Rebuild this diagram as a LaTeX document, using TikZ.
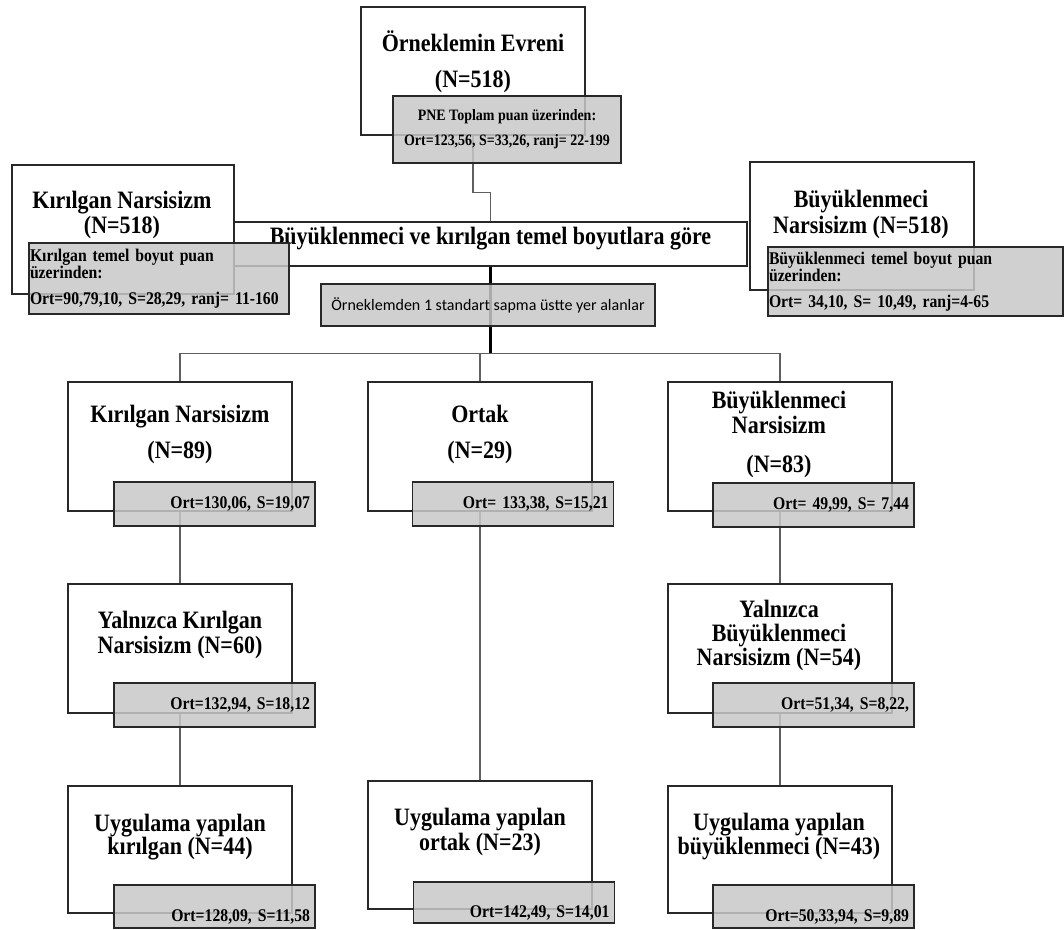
\documentclass[tikz,border=0pt]{standalone}
\usepackage{fontspec}
\setmainfont{Liberation Serif}
\newfontfamily\nserif[FakeStretch=0.88]{Liberation Serif}
\newfontfamily\carlito{Carlito}
\newcommand\titlefont{\nserif\bfseries\fontsize{18.75}{18}\selectfont}
\newcommand\grayfont{\nserif\bfseries\fontsize{13.4}{12.75}\selectfont}
\newcommand\pnefont{\nserif\bfseries\fontsize{11.9}{18.75}\selectfont}

\definecolor{boxline}{RGB}{40,40,40}
\definecolor{linegray}{RGB}{95,95,95}
\definecolor{boxgray}{RGB}{200,200,200}

\tikzset{
	wbox/.style={draw=boxline, line width=1pt, fill=white, inner sep=0pt, minimum width=168pt, minimum height=96.75pt},
	gbox/.style={draw=boxline, line width=1pt, fill=boxgray, fill opacity=0.85, text opacity=1, inner ysep=0pt, font=\grayfont},
	ortbox/.style={gbox, minimum width=150.75pt, minimum height=33pt, inner xsep=3.75pt, text width=143.25pt, align=right},
	lowtext/.style={text height=24pt, text depth=0.8pt},
	ttl/.style={font=\titlefont, align=center, inner sep=0pt, anchor=north, execute at begin node=\rule{0pt}{16.5pt}},
	link/.style={draw=linegray, line width=0.8pt},
	trunk/.style={draw=black, line width=1.6pt}}
\tikzset{every picture/.style={line width=0.75pt}}

\begin{document}
\begin{tikzpicture}[x=0.75pt,y=0.75pt,yscale=-1,xscale=1]
	\fill[white] (0,0) rectangle (1064,929);
	\useasboundingbox (0,0) rectangle (1064,929);

	%Shape: Rectangle [white boxes]
	\node[wbox, minimum height=96pt] (evren) at (473,71) {};
	\node[wbox, minimum width=166.5pt] (kirUst) at (123,229.5) {};
	\node[wbox, minimum height=96pt] (buyUst) at (862,226) {};
	\node[wbox, minimum width=384.75pt, minimum height=33pt, font=\titlefont, text height=6pt, text depth=6pt] (boyut) at (490.5,244) {Büyüklenmeci ve kırılgan temel boyutlara göre};
	\node[wbox] (kir2) at (180,446.5) {};
	\node[wbox] (ort2) at (480,446.5) {};
	\node[wbox] (buy2) at (780,446.5) {};
	\node[wbox] (kir3) at (180,648.5) {};
	\node[wbox] (buy3) at (780,648.5) {};
	\node[wbox, minimum height=95.25pt] (kir4) at (180,849.5) {};
	\node[wbox, minimum height=96pt] (ort4) at (480,845) {};
	\node[wbox, minimum height=95.25pt] (buy4) at (780,849.5) {};

	%Straight Lines
	\draw[link] (evren.south) -- ++(0,57) -| (boyut.north);
	\draw[trunk] (boyut.south) -- ++(0,87) coordinate (split);
	\draw[link] (kir2.north) |- (split) -| (buy2.north);
	\draw[link] (ort2.north) -- (ort2.north |- split);
	\draw[link] (kir2.south) -- (kir3.north);
	\draw[link] (kir3.south) -- (kir4.north);
	\draw[link] (buy2.south) -- (buy3.north);
	\draw[link] (buy3.south) -- (buy4.north);
	\draw[link] (ort2.south) -- (ort4.north);

	%Shape: Rectangle [gray boxes]
	\node[gbox, font=\pnefont, align=center, minimum width=171pt, minimum height=50.25pt] (evrenG) at (507,129.5) {PNE Toplam puan üzerinden:\\Ort=123,56, S=33,26, ranj= 22-199};
	\node[gbox, inner xsep=0.75pt, text width=193.5pt, align=left, minimum height=53.25pt] (kirUstG) at (159,278.5) {Kırılgan temel boyut puan\\üzerinden:\\[6.75pt]Ort=90,79,10, S=28,29, ranj= 11-160};
	\node[gbox, inner xsep=0.75pt, text width=219.75pt, align=left, minimum height=51.75pt] (buyUstG) at (915.5,281.5) {Büyüklenmeci temel boyut puan\\üzerinden:\\[6.75pt]Ort= 34,10, S= 10,49, ranj=4-65};
	\node[gbox, font=\carlito\fontsize{12}{12}\selectfont, minimum width=250.5pt, minimum height=31.5pt] (ornek) at (488,305) {Örneklemden 1 standart sapma üstte yer alanlar};
	\node[ortbox] (kir2G) at (214.5,504) {Ort=130,06, S=19,07};
	\node[ortbox] (ort2G) at (513,504) {Ort= 133,38, S=15,21};
	\node[ortbox] (buy2G) at (813.5,505) {Ort= 49,99, S= 7,44};
	\node[ortbox] (kir3G) at (214.5,705) {Ort=132,94, S=18,12};
	\node[ortbox] (buy3G) at (813.5,705) {Ort=51,34, S=8,22,};
	\node[ortbox, lowtext, minimum height=32.25pt] (kir4G) at (214.5,906.5) {Ort=128,09, S=11,58};
	\node[ortbox, lowtext, minimum height=30.75pt] (ort4G) at (514,902.5) {Ort=142,49, S=14,01};
	\node[ortbox, lowtext, minimum height=32.25pt] (buy4G) at (813.5,906.5) {Ort=50,33,94, S=9,89};

	% Text Node
	\node[ttl] (evrenT) at (473,30) {Örneklemin Evreni\\[9pt](N=518)};
	% Text Node
	\node[ttl] (kirUstT) at (122,191) {Kırılgan Narsisizm\\[0.5pt](N=518)};
	% Text Node
	\node[ttl] (buyUstT) at (861,190) {Büyüklenmeci\\[1.5pt]Narsisizm (N=518)};
	% Text Node
	\node[ttl] (kir2T) at (180,405) {Kırılgan Narsisizm\\[9pt](N=89)};
	% Text Node
	\node[ttl] (ort2T) at (480,405) {Ortak\\[9pt](N=29)};
	% Text Node
	\node[ttl] (buy2T) at (779,391) {Büyüklenmeci\\[0.75pt]Narsisizm\\[11.25pt](N=83)};
	% Text Node
	\node[ttl] (kir3T) at (180,611) {Yalnızca Kırılgan\\[0.75pt]Narsisizm (N=60)};
	% Text Node
	\node[ttl] (buy3T) at (779,600) {Yalnızca\\Büyüklenmeci\\Narsisizm (N=54)};
	% Text Node
	\node[ttl] (kir4T) at (180,814) {Uygulama yapılan\\[-0.75pt]kırılgan (N=44)};
	% Text Node
	\node[ttl] (ort4T) at (480,808) {Uygulama yapılan\\[0.75pt]ortak (N=23)};
	% Text Node
	\node[ttl] (buy4T) at (779,813) {Uygulama yapılan\\büyüklenmeci (N=43)};

\end{tikzpicture}
\end{document}
